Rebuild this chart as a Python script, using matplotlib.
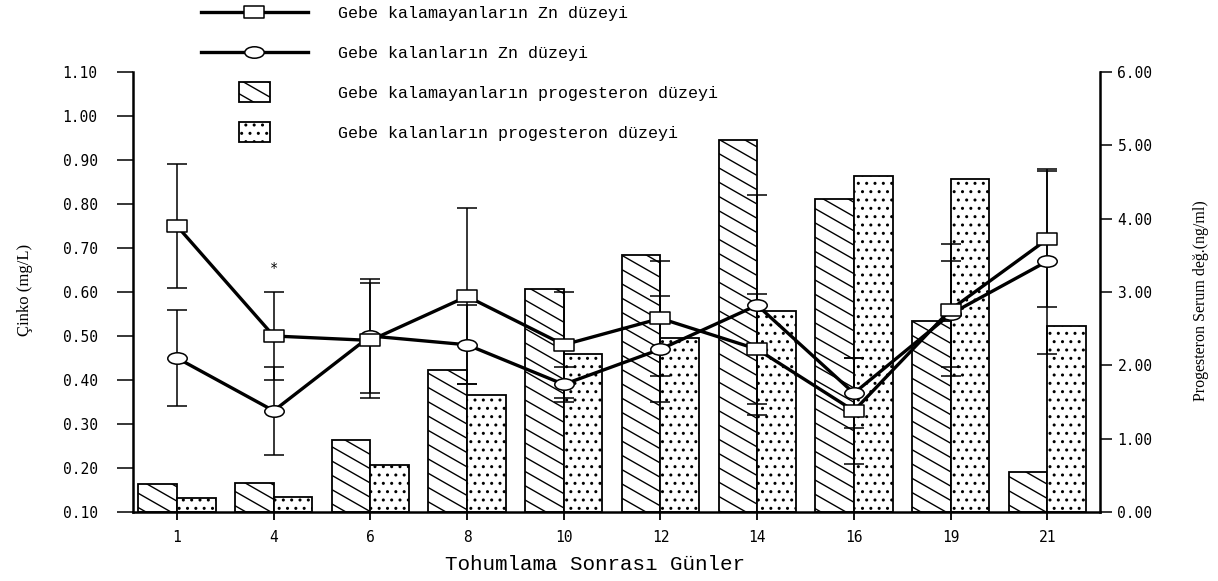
import numpy as np
import matplotlib
matplotlib.use("Agg")
import matplotlib.pyplot as plt
import matplotlib.hatch as mhatch
from matplotlib.path import Path
from matplotlib.patches import Rectangle
from matplotlib.legend_handler import HandlerPatch

# -----------------------------
# DATA
# -----------------------------
days = ["1", "4", "6", "8", "10", "12", "14", "16", "19", "21"]

# Zn (mg/L), left axis
zn_open = [0.75, 0.50, 0.49, 0.59, 0.48, 0.54, 0.47, 0.33, 0.56, 0.72]      # gebe kalamayanlar
zn_open_err = [0.14, 0.10, 0.13, 0.20, 0.12, 0.13, 0.125, 0.12, 0.15, 0.155]
zn_preg = [0.45, 0.33, 0.50, 0.48, 0.39, 0.47, 0.57, 0.37, 0.55, 0.67]      # gebe kalanlar
zn_preg_err = [0.11, 0.10, 0.13, 0.09, 0.04, 0.12, 0.25, 0.08, 0.12, 0.21]

# progesteron (ng/ml), right axis
prog_open = [0.38, 0.40, 0.98, 1.93, 3.04, 3.50, 5.07, 4.27, 2.61, 0.54]
prog_preg = [0.19, 0.21, 0.64, 1.60, 2.16, 2.37, 2.74, 4.58, 4.54, 2.53]

labels = ["Gebe kalamayanların Zn düzeyi",
          "Gebe kalanların Zn düzeyi",
          "Gebe kalamayanların progesteron düzeyi",
          "Gebe kalanların progesteron düzeyi"]


# shallow "\" hatch like the old print (replaces the 45 degree one)
class ShallowBackslash(mhatch.HatchPatternBase):
    def __init__(self, hatch, density):
        n = hatch.count("\\") * 7
        self.offsets = np.arange(-1, 2 * n + 2) / n if n else np.empty(0)
        self.num_vertices = 2 * len(self.offsets)

    def set_vertices_and_codes(self, vertices, codes):
        vertices[0::2, 0] = 0.0
        vertices[0::2, 1] = self.offsets
        vertices[1::2, 0] = 1.0
        vertices[1::2, 1] = self.offsets - 4 / 7
        codes[0::2] = Path.MOVETO
        codes[1::2] = Path.LINETO


mhatch._hatch_types[mhatch._hatch_types.index(mhatch.SouthEastHatch)] = ShallowBackslash
plt.rcParams["hatch.linewidth"] = 1.0
plt.rcParams["font.family"] = ["DejaVu Sans Mono", "DejaVu Sans"]

# wide markers (the scan is stretched horizontally)
rect_marker = Path([(-1.5, -1), (1.5, -1), (1.5, 1), (-1.5, 1), (-1.5, -1)],
                   [Path.MOVETO, Path.LINETO, Path.LINETO, Path.LINETO, Path.CLOSEPOLY])
circ = Path.unit_circle()
ell_marker = Path(circ.vertices * [1.7, 1.0], circ.codes)

# -----------------------------
# PLOT
# -----------------------------
fig = plt.figure(figsize=(12.18, 5.81), dpi=100)
ax = fig.add_axes([133 / 1218, (581 - 512) / 581, (1100 - 133) / 1218, 440 / 581])
ax2 = ax.twinx()
ax.set_zorder(ax2.get_zorder() + 1)
ax.patch.set_visible(False)

x = np.arange(len(days))
w = 0.4
bars_open = ax2.bar(x - w / 2, prog_open, w, facecolor="white", edgecolor="black",
                    hatch="\\", linewidth=1.3)
bars_preg = ax2.bar(x + w / 2, prog_preg, w, facecolor="white", edgecolor="black",
                    hatch="..", linewidth=1.3)

ax.errorbar(x, zn_open, yerr=zn_open_err, fmt="none", ecolor="black",
            elinewidth=1.1, capsize=7, capthick=1.1, zorder=2)
ax.errorbar(x, zn_preg, yerr=zn_preg_err, fmt="none", ecolor="black",
            elinewidth=1.1, capsize=7, capthick=1.1, zorder=2)
l2, = ax.plot(x, zn_preg, color="black", lw=2.4, marker=ell_marker, ms=14,
              mfc="white", mec="black", mew=1.1, zorder=3)
l1, = ax.plot(x, zn_open, color="black", lw=2.4, marker=rect_marker, ms=14,
              mfc="white", mec="black", mew=1.1, zorder=3.1)
ax.text(1, 0.655, "*", ha="center", va="center", fontsize=10)

ax.set_xlim(-0.455, 9.545)
ax.set_ylim(0.10, 1.10)
ax2.set_ylim(0, 6)

ax.set_xticks(x)
ax.set_xticklabels(days)
ax.set_yticks(np.arange(0.1, 1.101, 0.1))
ax.yaxis.set_major_formatter("{x:.2f}")
ax2.set_yticks(np.arange(0, 6.01, 1))
ax2.yaxis.set_major_formatter("{x:.2f}")

for s in ["top", "right"]:
    ax.spines[s].set_visible(False)
for s in ["top", "left", "bottom"]:
    ax2.spines[s].set_visible(False)
ax.spines["left"].set_linewidth(1.8)
ax.spines["bottom"].set_linewidth(1.8)
ax2.spines["right"].set_linewidth(1.8)

ax.tick_params(axis="y", length=11.5, width=1.1, pad=14, labelsize=10.5)
ax.tick_params(axis="x", length=6, width=1.3, pad=7, labelsize=10.5)
ax2.tick_params(axis="y", length=8.6, width=1.1, pad=4, labelsize=10.5)

ax.set_xlabel("Tohumlama Sonrası Günler", family="Liberation Mono", fontsize=15)
ax.xaxis.set_label_coords(0.478, -0.098)
ax.set_ylabel("Çinko (mg/L)", family="Liberation Serif", fontsize=12)
ax.yaxis.set_label_coords(-0.103, 0.505)
ax2.set_ylabel("Progesteron Serum değ.(ng/ml)", family="Liberation Serif", fontsize=11.5)
ax2.yaxis.set_label_coords(1.096, 0.48)


def small_box(legend, orig_handle, xdescent, ydescent, width, height, fontsize):
    return Rectangle((-xdescent + width / 2 - 11, -ydescent + height / 2 - 7), 22, 14)


ax.legend(handles=[l1, l2, bars_open[0], bars_preg[0]], labels=labels,
          loc="upper left", bbox_to_anchor=(201 / 1218, 1 - 6 / 581),
          bbox_transform=fig.transFigure, frameon=False,
          prop={"family": "Liberation Mono", "size": 12},
          handlelength=6.4, handletextpad=1.8, labelspacing=1.5,
          borderpad=0, borderaxespad=0,
          handler_map={Rectangle: HandlerPatch(patch_func=small_box)})

fig.savefig("out.png", dpi=100)
